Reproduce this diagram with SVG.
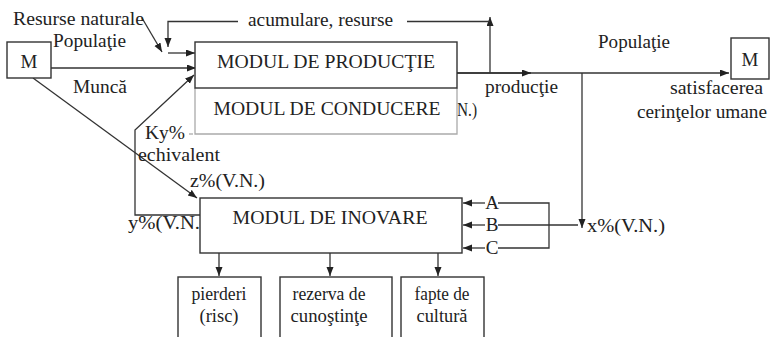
<svg xmlns="http://www.w3.org/2000/svg" width="772" height="337" viewBox="0 0 772 337">
<defs>
<style>
text{font-family:"Liberation Serif","Times New Roman",serif;fill:#222;}
.t{font-size:19px;}
.s{font-size:18px;}
.node{fill:#fff;stroke:#333;stroke-width:1.4;}
.light{fill:none;stroke:#aaa;stroke-width:1.3;}
.ln{fill:none;stroke:#333;stroke-width:1.3;}
.mid{text-anchor:middle;}
</style>
<marker id="ah" markerUnits="userSpaceOnUse" markerWidth="10" markerHeight="8" refX="9" refY="3.5" orient="auto">
<path d="M0,0 L9,3.5 L0,7 z" fill="#222"/>
</marker>
</defs>
<rect width="772" height="337" fill="#fff"/>

<g id="connectors">
<path class="ln" d="M457,73 H729" marker-end="url(#ah)"/>
<path class="ln" d="M457,73 H531" marker-end="url(#ah)"/>
<path class="ln" d="M490,73 V17" marker-end="url(#ah)"/>
<path class="ln" d="M490,21.5 H407"/>
<path class="ln" d="M238,21.5 H168 V47" marker-end="url(#ah)"/>
<path class="ln" d="M142,18 L162,52" marker-end="url(#ah)"/>
<path class="ln" d="M168,53 H195" marker-end="url(#ah)"/>
<path class="ln" d="M51,68 H196" marker-end="url(#ah)"/>
<path class="ln" d="M200,215 H135 V130 L194,75" marker-end="url(#ah)"/>
<path class="ln" d="M33,78 L197,198" marker-end="url(#ah)"/>
<path class="ln" d="M582,73 V228" marker-end="url(#ah)"/>
<path class="ln" d="M498,225 H578"/>
<path class="ln" d="M498,203 H549 V248 H498"/>
<path class="ln" d="M485,203 H463" marker-end="url(#ah)"/>
<path class="ln" d="M485,225 H463" marker-end="url(#ah)"/>
<path class="ln" d="M485,248 H463" marker-end="url(#ah)"/>
<path class="ln" d="M219,253 V276" marker-end="url(#ah)"/>
<path class="ln" d="M330,253 V276" marker-end="url(#ah)"/>
<path class="ln" d="M438,253 V276" marker-end="url(#ah)"/>
</g>

<g id="labels">
<text class="t" x="13" y="25" textLength="131" lengthAdjust="spacingAndGlyphs">Resurse naturale</text>
<text class="t" x="53" y="47" textLength="73" lengthAdjust="spacingAndGlyphs">Populaţie</text>
<text class="t" x="73" y="93" textLength="54" lengthAdjust="spacingAndGlyphs">Muncă</text>
<text class="t" x="248" y="26" textLength="145" lengthAdjust="spacingAndGlyphs">acumulare, resurse</text>
<text class="t" x="145" y="139" textLength="40" lengthAdjust="spacingAndGlyphs">Ky%</text>
<text class="t" x="138" y="161" textLength="82" lengthAdjust="spacingAndGlyphs">echivalent</text>
<text class="t" x="190" y="187" textLength="75" lengthAdjust="spacingAndGlyphs">z%(V.N.)</text>
<text class="t" x="128" y="229" textLength="72" lengthAdjust="spacingAndGlyphs">y%(V.N.</text>
<text class="t" x="598" y="48" textLength="72" lengthAdjust="spacingAndGlyphs">Populaţie</text>
<text class="t" x="485" y="93" textLength="73" lengthAdjust="spacingAndGlyphs">producţie</text>
<text class="t" x="670" y="94" textLength="93" lengthAdjust="spacingAndGlyphs">satisfacerea</text>
<text class="t" x="637" y="118" textLength="130" lengthAdjust="spacingAndGlyphs">cerinţelor umane</text>
<text class="t" x="457" y="116" textLength="20" lengthAdjust="spacingAndGlyphs">N.)</text>
<text class="t" x="587" y="232" textLength="78" lengthAdjust="spacingAndGlyphs">x%(V.N.)</text>
<text class="t mid" x="492" y="209">A</text>
<text class="t mid" x="492" y="231">B</text>
<text class="t mid" x="492" y="254">C</text>
</g>

<g id="conducere">
<path class="light" d="M195,88 V134 H457 V88"/>
<path class="light" d="M189,134 H193"/>
<text class="t mid" x="327" y="115" textLength="227" lengthAdjust="spacingAndGlyphs">MODUL DE CONDUCERE</text>
</g>

<g id="productie">
<rect class="node" x="195" y="42" width="262" height="46"/>
<text class="t mid" x="326" y="68" textLength="218" lengthAdjust="spacingAndGlyphs">MODUL DE PRODUCŢIE</text>
</g>

<g id="m-left">
<rect class="node" x="7" y="42" width="44" height="36"/>
<text class="t mid" x="29" y="68">M</text>
</g>

<g id="m-right">
<rect class="node" x="731" y="38" width="38" height="41"/>
<text class="t mid" x="750" y="66">M</text>
</g>

<g id="inovare">
<rect class="node" x="200" y="198" width="262" height="55"/>
<text class="t mid" x="330" y="224" textLength="195" lengthAdjust="spacingAndGlyphs">MODUL DE INOVARE</text>
</g>

<g id="pierderi">
<rect class="node" x="178" y="277" width="83" height="70"/>
<text class="s mid" x="219" y="300" textLength="55" lengthAdjust="spacingAndGlyphs">pierderi</text>
<text class="s mid" x="219" y="322" textLength="39" lengthAdjust="spacingAndGlyphs">(risc)</text>
</g>

<g id="rezerva">
<rect class="node" x="280" y="277" width="112" height="70"/>
<text class="s mid" x="329" y="300" textLength="73" lengthAdjust="spacingAndGlyphs">rezerva de</text>
<text class="s mid" x="329" y="322" textLength="77" lengthAdjust="spacingAndGlyphs">cunoştinţe</text>
</g>

<g id="fapte">
<rect class="node" x="401" y="277" width="83" height="70"/>
<text class="s mid" x="442" y="300" textLength="55" lengthAdjust="spacingAndGlyphs">fapte de</text>
<text class="s mid" x="442" y="322" textLength="51" lengthAdjust="spacingAndGlyphs">cultură</text>
</g>
</svg>
